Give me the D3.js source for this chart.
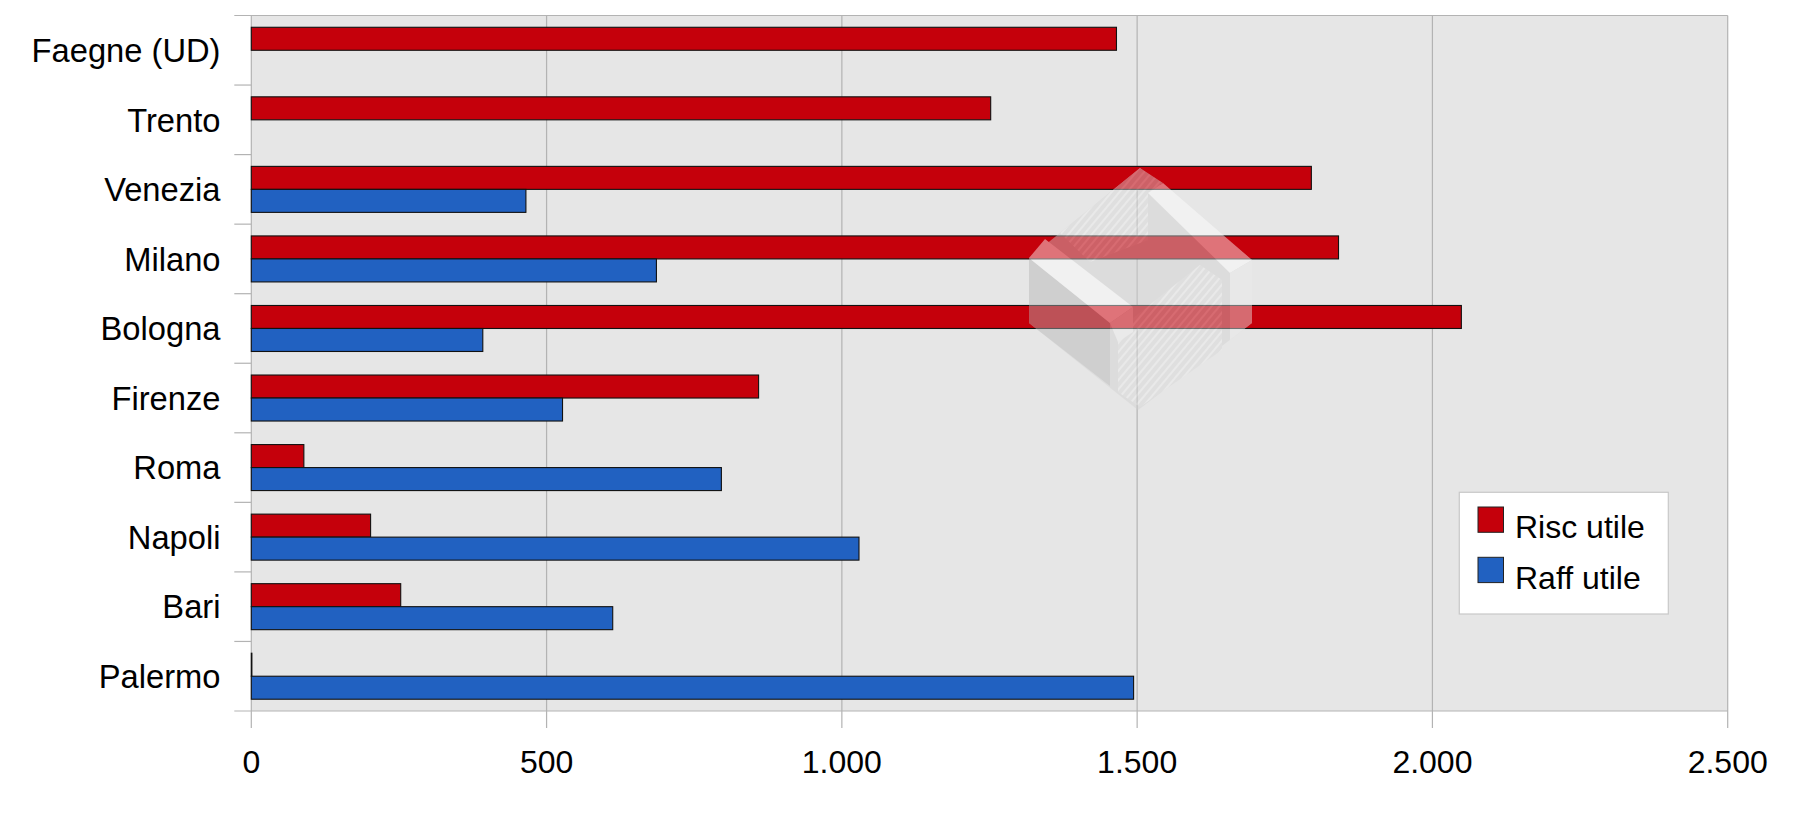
<!DOCTYPE html>
<html>
<head>
<meta charset="utf-8">
<script src="https://cdn.jsdelivr.net/npm/d3@7"></script>
<style>
  html, body { margin: 0; padding: 0; background: #ffffff; }
  svg { display: block; }
  text { font-family: "Liberation Sans", Arial, sans-serif; fill: #000; }
</style>
</head>
<body>
<svg id="chart" width="1794" height="815"></svg>
<script>
// Cities, top to bottom
const cities = ["Faegne (UD)", "Trento", "Venezia", "Milano", "Bologna",
                "Firenze", "Roma", "Napoli", "Bari", "Palermo"];
// Useful heating demand
const riscUtile = [1465, 1252, 1795, 1841, 2049, 859, 89, 202, 253, 1];
// Useful cooling demand
const raffUtile = [0, 0, 465, 686, 392, 527, 796, 1029, 612, 1494];
// Value axis ticks
const xTicks = [0, 500, 1000, 1500, 2000, 2500];
const seriesNames = ["Risc utile", "Raff utile"];
const seriesColors = ["#c5000b", "#2161c1"];

const svg = d3.select("#chart");
const plotL = 251.3, plotR = 1727.7, plotT = 15.5, plotB = 711;

const it = d3.formatLocale({ decimal: ",", thousands: ".", grouping: [3], currency: ["€", ""] });
const fmt = it.format(",");

const x = d3.scaleLinear().domain([0, 2500]).range([plotL, plotR]);
const y = d3.scaleBand().domain(cities).range([plotT, plotB]).padding(0);
const inner = d3.scaleBand().domain(seriesNames).range([0, y.bandwidth()])
  .paddingInner(0).paddingOuter(0.512);

// Plot background
svg.append("rect")
  .attr("x", plotL).attr("y", plotT)
  .attr("width", plotR - plotL).attr("height", plotB - plotT)
  .attr("fill", "#e6e6e6");

// Vertical grid lines with tick marks below the plot
svg.append("g").selectAll("line").data(xTicks).join("line")
  .attr("x1", d => x(d)).attr("x2", d => x(d))
  .attr("y1", plotT).attr("y2", plotB + 17)
  .attr("stroke", "#b3b3b3").attr("stroke-width", 1.2);

// Horizontal frame lines and category tick marks
const bounds = cities.map(c => y(c)).concat([plotB]);
svg.append("g").selectAll("line").data(bounds).join("line")
  .attr("x1", plotL - 17).attr("x2", d => (d === plotT || d === plotB) ? plotR : plotL)
  .attr("y1", d => d).attr("y2", d => d)
  .attr("stroke", "#b3b3b3").attr("stroke-width", 1.2);

// Bars
const series = [riscUtile, raffUtile];
series.forEach((vals, si) => {
  svg.append("g").selectAll("rect")
    .data(cities.map((c, i) => ({ c, v: vals[i] })).filter(d => d.v > 0))
    .join("rect")
    .attr("x", x(0))
    .attr("y", d => y(d.c) + inner(seriesNames[si]))
    .attr("width", d => x(d.v) - x(0))
    .attr("height", inner.bandwidth())
    .attr("fill", seriesColors[si])
    .attr("stroke", "#111")
    .attr("stroke-width", 1.1);
});

// Category labels
svg.append("g").selectAll("text").data(cities).join("text")
  .attr("x", 220.5)
  .attr("y", d => y(d) + y.bandwidth() / 2 + 11.7)
  .attr("text-anchor", "end")
  .attr("font-size", 32.7)
  .text(d => d);

// Value axis labels
svg.append("g").selectAll("text").data(xTicks).join("text")
  .attr("x", d => x(d))
  .attr("y", 773)
  .attr("text-anchor", "middle")
  .attr("font-size", 32)
  .text(d => fmt(d));

// Logo watermark: translucent isometric block
const defs = svg.append("defs");
const pat = defs.append("pattern")
  .attr("id", "grain").attr("patternUnits", "userSpaceOnUse")
  .attr("width", 6).attr("height", 6)
  .attr("patternTransform", "rotate(-50)");
pat.append("rect").attr("width", 6).attr("height", 6).attr("fill", "#d8d8d8");
pat.append("line").attr("x1", 0).attr("y1", 3).attr("x2", 6).attr("y2", 3)
  .attr("stroke", "#f4f4f4").attr("stroke-width", 1.6);

const logo = svg.append("g").attr("opacity", 0.45);
const poly = (pts, fill) => logo.append("polygon")
  .attr("points", pts.map(p => p.join(",")).join(" "))
  .attr("fill", fill);

poly([[1140,168],[1252,260],[1252,323],[1138,410],[1029,323],[1029,258]], "#d2d2d2");
poly([[1029,258],[1110,323],[1110,386],[1029,323]], "#b4b4b4");
poly([[1060,233],[1140,168],[1163,183],[1148,193],[1148,240],[1090,262]], "url(#grain)");
poly([[1118,330],[1200,265],[1222,280],[1222,350],[1140,407],[1118,392]], "url(#grain)");
poly([[1029,258],[1045,239],[1133,307],[1110,323]], "#ffffff");
poly([[1110,323],[1133,307],[1133,332],[1118,342]], "#f0f0f0");
poly([[1148,193],[1163,183],[1252,260],[1230,273]], "#ffffff");
poly([[1230,273],[1252,260],[1252,323],[1230,340]], "#ececec");

// Legend
const lg = svg.append("g");
lg.append("rect")
  .attr("x", 1459.3).attr("y", 492.3).attr("width", 209).attr("height", 121.7)
  .attr("fill", "#ffffff").attr("stroke", "#c8c8c8").attr("stroke-width", 1.2);
seriesNames.forEach((name, i) => {
  lg.append("rect")
    .attr("x", 1478).attr("y", 507 + i * 50.3)
    .attr("width", 25.5).attr("height", 25.3)
    .attr("fill", seriesColors[i]).attr("stroke", "#222").attr("stroke-width", 1);
  lg.append("text")
    .attr("x", 1515).attr("y", 538.3 + i * 50.3)
    .attr("font-size", 32)
    .text(name);
});
</script>
</body>
</html>
